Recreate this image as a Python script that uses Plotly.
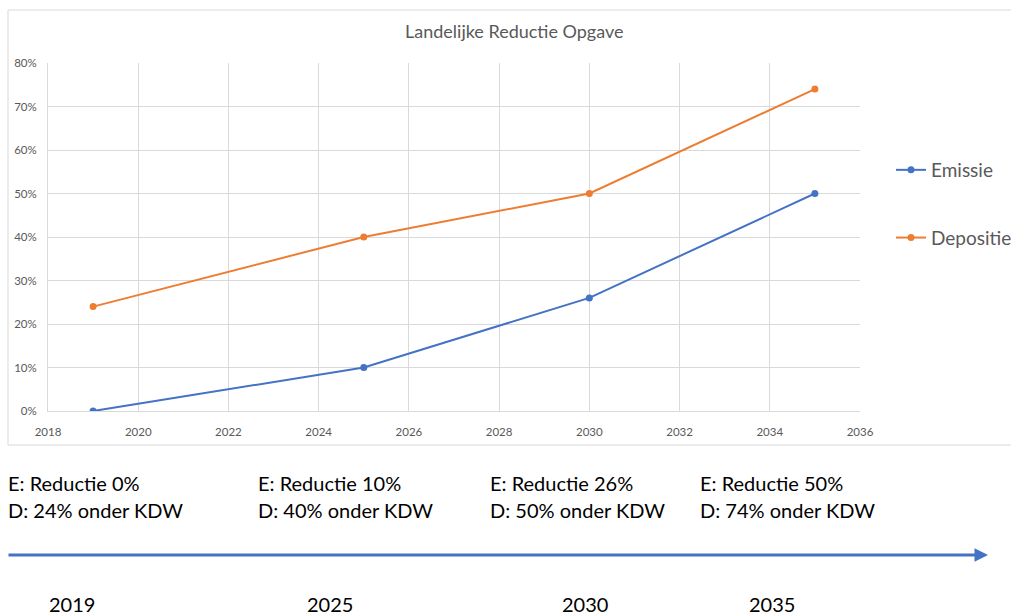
import plotly.graph_objects as go

years = [2019, 2025, 2030, 2035]
emissie = [0.00, 0.10, 0.26, 0.50]
depositie = [0.24, 0.40, 0.50, 0.74]
labels_e = ["E: Reductie 0%", "E: Reductie 10%", "E: Reductie 26%", "E: Reductie 50%"]
labels_d = ["D: 24% onder KDW", "D: 40% onder KDW", "D: 50% onder KDW", "D: 74% onder KDW"]
timeline_years = ["2019", "2025", "2030", "2035"]

W, H = 1011, 615
L, R, T, B = 48, 860, 63, 411  # plot area in pixels

def px(x):
    return (x - L) / (R - L)

def py(y):
    return (B - y) / (B - T)

FONT = "Lato"
fig = go.Figure()
fig.add_trace(go.Scatter(x=years, y=emissie, name="Emissie", mode="lines+markers",
                         line=dict(color="#4472C4", width=2), marker=dict(size=7, color="#4472C4"),
                         legendgroup="e"))
fig.add_trace(go.Scatter(x=years, y=depositie, name="Depositie", mode="lines+markers",
                         line=dict(color="#ED7D31", width=2), marker=dict(size=7, color="#ED7D31"),
                         legendgroup="d"))

annotations = []
annotations.append(dict(text="Landelijke Reductie Opgave", xref="paper", yref="paper",
                        x=px(514), y=py(31), showarrow=False, xanchor="center", yanchor="middle",
                        font=dict(family=FONT, size=18, color="#595959")))
col_x = [6, 256, 488, 698]
for i in range(4):
    annotations.append(dict(text=labels_e[i], xref="paper", yref="paper", x=px(col_x[i]), y=py(483),
                            showarrow=False, xanchor="left", yanchor="middle",
                            font=dict(family=FONT, size=20, color="#000000")))
    annotations.append(dict(text=labels_d[i], xref="paper", yref="paper", x=px(col_x[i]), y=py(510),
                            showarrow=False, xanchor="left", yanchor="middle",
                            font=dict(family=FONT, size=20, color="#000000")))
year_x = [72, 330, 585, 772]
for i in range(4):
    annotations.append(dict(text=timeline_years[i], xref="paper", yref="paper", x=px(year_x[i]), y=py(604),
                            showarrow=False, xanchor="center", yanchor="middle",
                            font=dict(family=FONT, size=20, color="#000000")))
# timeline arrow
annotations.append(dict(text="", xref="paper", yref="paper", x=px(988), y=py(555),
                        ax=7 - 988, ay=0, showarrow=True, arrowhead=2, arrowsize=0.9,
                        arrowwidth=3, arrowcolor="#4472C4"))

shapes = [dict(type="rect", xref="paper", yref="paper", x0=px(8), x1=px(1012), y0=py(10), y1=py(445),
               line=dict(color="#d9d9d9", width=1), fillcolor="rgba(0,0,0,0)", layer="below")]

fig.update_layout(
    width=W, height=H,
    margin=dict(l=L, r=W - R, t=T, b=H - B, pad=0, autoexpand=False),
    paper_bgcolor="white", plot_bgcolor="white",
    showlegend=True,
    legend=dict(xref="container", yref="container", x=891 / W, y=1 - 151 / H,
                xanchor="left", yanchor="top",
                font=dict(family=FONT, size=19, color="#595959"),
                tracegroupgap=40, itemwidth=30, bgcolor="rgba(0,0,0,0)"),
    xaxis=dict(range=[2018, 2036], dtick=2, tick0=2018, showgrid=True, gridcolor="#d9d9d9",
               zeroline=False, showline=True, linecolor="#d9d9d9", ticks="",
               tickfont=dict(family=FONT, size=11.5, color="#595959"), ticklabelstandoff=10),
    yaxis=dict(range=[0, 0.8], dtick=0.1, tickformat=".0%", showgrid=True, gridcolor="#d9d9d9",
               zeroline=False, showline=True, linecolor="#d9d9d9", ticks="",
               tickfont=dict(family=FONT, size=11.5, color="#595959"), ticklabelstandoff=8),
    annotations=annotations,
    shapes=shapes,
)
fig.write_html("out.html", config={"displayModeBar": False},
               post_script="document.body.style.margin='0';document.body.style.overflow='hidden';")
